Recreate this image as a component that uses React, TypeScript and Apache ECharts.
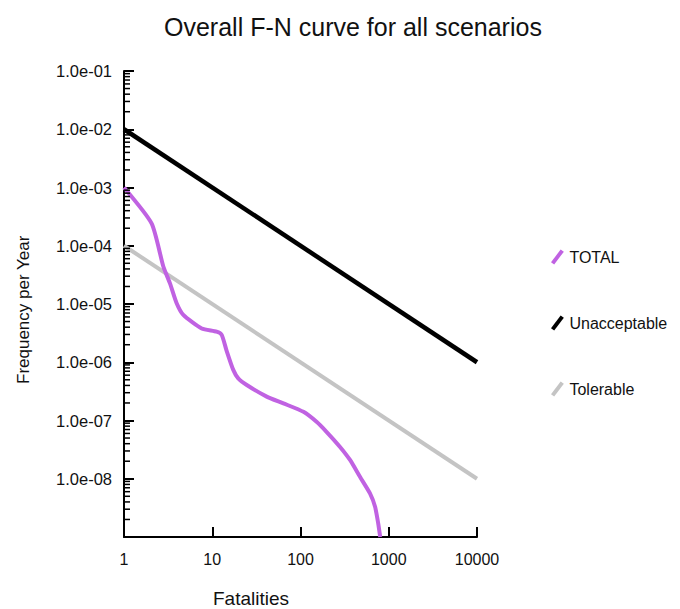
import React, { useEffect, useRef } from "react";
import * as echarts from "echarts";

const title = "Overall F-N curve for all scenarios";
const xName = "Fatalities";
const yName = "Frequency per Year";

const seriesNames = ["TOTAL", "Unacceptable", "Tolerable"];
const seriesColors = ["#C062E2", "#000000", "#C4C4C4"];

const totalN = [1, 2.06, 2.79, 3.32, 3.95, 4.7, 7.6, 11.2, 12.8, 14.5, 17.3, 19.7, 24.6, 41.4, 64, 108, 152, 197, 279, 364, 472, 613, 700, 760, 800];
const totalF = [1e-3, 2.4e-4, 4.4e-5, 2.26e-5, 1.03e-5, 6.5e-6, 3.8e-6, 3.35e-6, 2.95e-6, 1.6e-6, 7.4e-7, 5.3e-7, 4.07e-7, 2.57e-7, 1.97e-7, 1.41e-7, 9.5e-8, 6.4e-8, 3.55e-8, 2.1e-8, 1.08e-8, 5.6e-9, 3.3e-9, 1.7e-9, 1e-9];

const unaccN = [1, 10000];
const unaccF = [1e-2, 1e-6];
const tolN = [1, 10000];
const tolF = [1e-4, 1e-8];

const yMinExp = -9;
const yMaxExp = -1;
const minorMultipliers = [2, 3, 4, 5, 6, 7, 8, 9];

function fmtExp(v: number): string {
  const e = Math.round(Math.log10(v));
  const sign = e < 0 ? "-" : "+";
  return "1.0e" + sign + String(Math.abs(e)).padStart(2, "0");
}

const FONT = "Liberation Sans";

export default function App() {
  const ref = useRef<HTMLDivElement>(null);
  useEffect(() => {
    if (!ref.current) return;
    const chart = echarts.init(ref.current, null, { renderer: "svg" });
    const minorData: number[][] = [];
    for (let e = yMinExp; e < yMaxExp; e++) {
      for (const k of minorMultipliers) minorData.push([1, k * Math.pow(10, e)]);
    }
    const legendIcon = "path://M0,13 L9,1 L12,3 L3,15 Z";
    chart.setOption({
      animation: false,
      backgroundColor: "#ffffff",
      title: {
        text: title,
        left: 159,
        top: 9,
        textStyle: { fontFamily: FONT, fontSize: 25, fontWeight: "normal", color: "#111" },
      },
      legend: {
        orient: "vertical",
        left: 546,
        top: 244,
        itemGap: 50,
        itemWidth: 14,
        itemHeight: 15,
        icon: legendIcon,
        data: seriesNames,
        textStyle: { fontFamily: FONT, fontSize: 16, color: "#111" },
      },
      grid: { left: 124, right: 203, top: 71, bottom: 72, containLabel: false },
      xAxis: {
        type: "log",
        logBase: 10,
        min: 1,
        max: 10000,
        axisLine: { show: true, lineStyle: { color: "#000", width: 2 } },
        axisTick: { show: true, inside: true, length: 10, lineStyle: { color: "#000", width: 2 } },
        splitLine: { show: false },
        axisLabel: {
          fontFamily: FONT,
          fontSize: 16,
          color: "#111",
          margin: 14,
          formatter: (v: number) => String(Math.round(v)),
        },
      },
      yAxis: {
        type: "log",
        logBase: 10,
        min: Math.pow(10, yMinExp),
        max: Math.pow(10, yMaxExp),
        axisLine: { show: true, lineStyle: { color: "#000", width: 2 } },
        axisTick: { show: true, inside: true, length: 10, lineStyle: { color: "#000", width: 2 } },
        splitLine: { show: false },
        axisLabel: {
          fontFamily: FONT,
          fontSize: 16.5,
          color: "#111",
          margin: 12,
          showMinLabel: false,
          formatter: (v: number) => fmtExp(v),
        },
      },
      graphic: [
        {
          type: "text",
          left: 213,
          top: 589,
          style: { text: xName, fontFamily: FONT, fontSize: 19, fill: "#111" },
        },
        {
          type: "text",
          x: 15,
          y: 384,
          rotation: Math.PI / 2,
          style: { text: yName, fontFamily: FONT, fontSize: 17, fill: "#111", textVerticalAlign: "top" },
        },
      ],
      series: [
        {
          name: seriesNames[0],
          type: "line",
          data: totalN.map((n, i) => [n, totalF[i]]),
          showSymbol: false,
          smooth: 0.2,
          lineStyle: { color: seriesColors[0], width: 4 },
          itemStyle: { color: seriesColors[0] },
          z: 3,
        },
        {
          name: seriesNames[1],
          type: "line",
          data: unaccN.map((n, i) => [n, unaccF[i]]),
          showSymbol: false,
          lineStyle: { color: seriesColors[1], width: 4.5 },
          itemStyle: { color: seriesColors[1] },
          z: 2,
        },
        {
          name: seriesNames[2],
          type: "line",
          data: tolN.map((n, i) => [n, tolF[i]]),
          showSymbol: false,
          lineStyle: { color: seriesColors[2], width: 4 },
          itemStyle: { color: seriesColors[2] },
          z: 1,
        },
        {
          name: "minorTicks",
          type: "custom",
          data: minorData,
          silent: true,
          clip: false,
          renderItem: (params: any, api: any) => {
            const p = api.coord([api.value(0), api.value(1)]);
            return {
              type: "line",
              shape: { x1: p[0], y1: p[1], x2: p[0] + 6, y2: p[1] },
              style: { stroke: "#000", lineWidth: 1.5 },
            };
          },
          z: 4,
        },
      ],
    });
    return () => chart.dispose();
  }, []);
  return <div ref={ref} style={{ position: "fixed", left: 0, top: 0, width: 680, height: 609 }} />;
}
